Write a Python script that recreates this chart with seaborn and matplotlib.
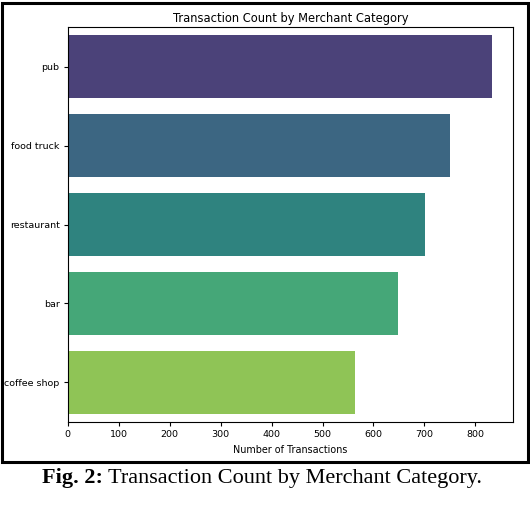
import matplotlib.pyplot as plt
import matplotlib.patches as mpatches
import pandas as pd
import seaborn as sns

categories = ['pub', 'food truck', 'restaurant', 'bar', 'coffee shop']
counts = [833, 750, 701, 648, 564]

df = pd.DataFrame({'merchant_category': categories, 'count': counts})

fig = plt.figure(figsize=(5.30, 5.24), dpi=100)
ax = fig.add_axes([0.128, 0.195, 0.840, 0.753])

sns.barplot(data=df, x='count', y='merchant_category', hue='merchant_category',
            palette='viridis', legend=False, ax=ax)
ax.set_title('Transaction Count by Merchant Category', fontsize=8.3, pad=4)
ax.set_xlabel('Number of Transactions', fontsize=6.9, labelpad=4)
ax.set_ylabel('')
ax.tick_params(labelsize=6.8, length=3, pad=3)
ax.set_xlim(0, 874)

# black frame around the chart, as in the paper screenshot
frame = mpatches.Rectangle((0.004, 0.118), 0.992, 0.877, transform=fig.transFigure,
                           fill=False, edgecolor='black', linewidth=2.2)
fig.patches.append(frame)

fig.text(0.079, 0.079, 'Fig. 2:', fontsize=16, fontweight='bold',
         family='Liberation Serif', ha='left', va='baseline')
fig.text(0.204, 0.079, 'Transaction Count by Merchant Category.', fontsize=16,
         family='Liberation Serif', ha='left', va='baseline')

fig.savefig('out.png', dpi=100)
